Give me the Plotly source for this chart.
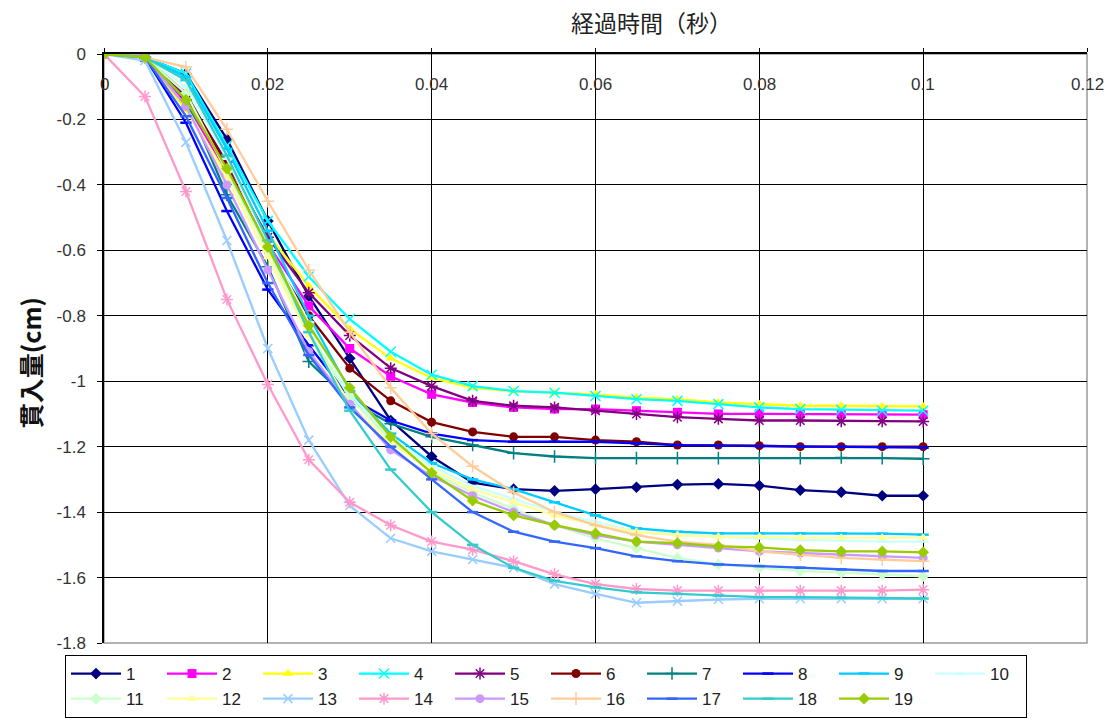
import plotly.graph_objects as go

# elapsed time (s)
t = [0, 0.005, 0.01, 0.015, 0.02, 0.025, 0.03, 0.035, 0.04, 0.045, 0.05,
     0.055, 0.06, 0.065, 0.07, 0.075, 0.08, 0.085, 0.09, 0.095, 0.1]

s1 = [0, -0.01, -0.06, -0.26, -0.51, -0.74, -0.93, -1.12, -1.23, -1.31, -1.33,
      -1.335, -1.33, -1.324, -1.316, -1.314, -1.319, -1.333, -1.339, -1.35, -1.35]
s2 = [0, -0.01, -0.15, -0.36, -0.58, -0.77, -0.90, -0.985, -1.04, -1.065, -1.08,
      -1.085, -1.085, -1.09, -1.095, -1.10, -1.10, -1.10, -1.10, -1.10, -1.102]
s3 = [0, -0.01, -0.17, -0.37, -0.55, -0.71, -0.84, -0.93, -0.99, -1.02, -1.03,
      -1.035, -1.04, -1.05, -1.055, -1.065, -1.07, -1.075, -1.075, -1.077, -1.077]
s4 = [0, -0.01, -0.06, -0.28, -0.51, -0.68, -0.81, -0.91, -0.98, -1.015, -1.03,
      -1.035, -1.045, -1.055, -1.06, -1.07, -1.08, -1.085, -1.087, -1.09, -1.09]
s5 = [0, -0.01, -0.13, -0.33, -0.56, -0.73, -0.86, -0.96, -1.015, -1.06, -1.075,
      -1.08, -1.09, -1.10, -1.11, -1.115, -1.12, -1.12, -1.122, -1.122, -1.123]
s6 = [0, -0.01, -0.12, -0.34, -0.60, -0.80, -0.96, -1.06, -1.125, -1.155, -1.17,
      -1.17, -1.18, -1.185, -1.195, -1.195, -1.197, -1.2, -1.2, -1.2, -1.2]
s7 = [0, -0.01, -0.14, -0.43, -0.65, -0.94, -1.06, -1.13, -1.17, -1.195, -1.22,
      -1.23, -1.235, -1.235, -1.235, -1.235, -1.235, -1.235, -1.233, -1.235, -1.237]
s8 = [0, -0.01, -0.21, -0.48, -0.72, -0.89, -1.05, -1.12, -1.16, -1.18, -1.185,
      -1.185, -1.185, -1.19, -1.195, -1.197, -1.198, -1.2, -1.2, -1.202, -1.203]
s9 = [0, -0.01, -0.07, -0.29, -0.54, -0.80, -1.03, -1.16, -1.25, -1.30, -1.33,
      -1.37, -1.41, -1.45, -1.46, -1.465, -1.465, -1.465, -1.465, -1.466, -1.469]
s10 = [0, -0.01, -0.10, -0.32, -0.58, -0.82, -1.04, -1.17, -1.26, -1.32, -1.36,
       -1.40, -1.43, -1.46, -1.47, -1.475, -1.48, -1.485, -1.487, -1.49, -1.49]
s11 = [0, -0.01, -0.12, -0.36, -0.60, -0.85, -1.05, -1.18, -1.28, -1.34, -1.39,
       -1.44, -1.48, -1.51, -1.54, -1.56, -1.57, -1.58, -1.585, -1.59, -1.596]
s12 = [0, -0.01, -0.16, -0.38, -0.62, -0.86, -1.07, -1.19, -1.27, -1.33, -1.37,
       -1.41, -1.44, -1.46, -1.47, -1.475, -1.475, -1.478, -1.478, -1.478, -1.478]
s13 = [0, -0.02, -0.27, -0.57, -0.90, -1.18, -1.38, -1.48, -1.52, -1.545, -1.57,
       -1.62, -1.65, -1.677, -1.672, -1.667, -1.665, -1.665, -1.665, -1.665, -1.665]
s14 = [0, -0.13, -0.42, -0.75, -1.01, -1.24, -1.37, -1.44, -1.49, -1.515, -1.55,
       -1.59, -1.62, -1.635, -1.64, -1.64, -1.64, -1.64, -1.64, -1.64, -1.637]
s15 = [0, -0.01, -0.16, -0.40, -0.66, -0.91, -1.07, -1.21, -1.29, -1.35, -1.40,
       -1.44, -1.47, -1.49, -1.50, -1.51, -1.52, -1.525, -1.53, -1.535, -1.54]
s16 = [0, -0.01, -0.04, -0.23, -0.45, -0.66, -0.85, -1.02, -1.16, -1.26, -1.34,
       -1.40, -1.44, -1.47, -1.49, -1.50, -1.52, -1.53, -1.54, -1.545, -1.55]
s17 = [0, -0.01, -0.19, -0.44, -0.70, -0.92, -1.08, -1.20, -1.30, -1.40, -1.46,
       -1.49, -1.51, -1.535, -1.55, -1.56, -1.565, -1.57, -1.575, -1.58, -1.58]
s18 = [0, -0.01, -0.08, -0.31, -0.57, -0.85, -1.09, -1.27, -1.40, -1.50, -1.57,
       -1.61, -1.63, -1.645, -1.65, -1.655, -1.66, -1.66, -1.662, -1.663, -1.664]
s19 = [0, -0.01, -0.14, -0.35, -0.59, -0.83, -1.02, -1.17, -1.28, -1.365, -1.41,
       -1.44, -1.465, -1.49, -1.495, -1.505, -1.508, -1.516, -1.52, -1.52, -1.523]

names = [str(i) for i in range(1, 20)]
series = [s1, s2, s3, s4, s5, s6, s7, s8, s9, s10,
          s11, s12, s13, s14, s15, s16, s17, s18, s19]

colors = ["#000080", "#FF00FF", "#FFFF00", "#00FFFF", "#800080", "#800000",
          "#008080", "#0000FF", "#00CCFF", "#CCFFFF", "#CCFFCC", "#FFFF99",
          "#99CCFF", "#FF99CC", "#CC99FF", "#FFCC99", "#3366FF", "#33CCCC",
          "#99CC00"]
symbols = ["diamond", "square", "triangle-up", "x-thin-open", "asterisk-open",
           "circle", "cross-thin-open", "line-ew-open", "line-ew-open",
           "line-ew-open", "diamond", "triangle-up", "x-thin-open",
           "asterisk-open", "circle", "cross-thin-open", "line-ew-open",
           "line-ew-open", "diamond"]
sizes = [9, 9, 9, 10, 10, 9, 9, 8, 8, 8, 9, 9, 9, 10, 9, 9, 8, 8, 9]

ytickvals = [0, -0.2, -0.4, -0.6, -0.8, -1, -1.2, -1.4, -1.6, -1.8]
yticktext = ["0", "-0.2", "-0.4", "-0.6", "-0.8", "-1", "-1.2", "-1.4", "-1.6", "-1.8"]
xtickvals = [0, 0.02, 0.04, 0.06, 0.08, 0.1, 0.12]
xticktext = ["0", "0.02", "0.04", "0.06", "0.08", "0.1", "0.12"]

FONT = "Liberation Sans, Arial, sans-serif"
JFONT = "Noto Sans CJK JP, sans-serif"

fig = go.Figure()
for name, ys, c, sym, sz in zip(names, series, colors, symbols, sizes):
    open_sym = sym.endswith("open")
    fig.add_trace(go.Scatter(
        x=t, y=ys, name=name, mode="lines+markers",
        line=dict(color=c, width=2.3),
        marker=dict(symbol=sym, size=sz, color=c,
                    line=dict(color=c, width=(2.5 if sym.startswith("line") else 1.5) if open_sym else 0)),
    ))

annotations = [
    dict(text="経過時間（秒）", xref="paper", yref="paper", x=0.557, y=1.0,
         yshift=32, showarrow=False, xanchor="center", yanchor="middle",
         font=dict(family=JFONT, size=23, color="#222222")),
    dict(text="<b>貫入量(cm)</b>", xref="paper", yref="paper", x=0, xshift=-74,
         y=0.475, textangle=-90, showarrow=False, xanchor="center", yanchor="middle",
         font=dict(family=JFONT, size=25, color="#111111")),
]
for v, s in zip(xtickvals, xticktext):
    annotations.append(dict(text=s, x=v, y=0, xref="x", yref="y", yshift=-30,
                            showarrow=False, xanchor="center", yanchor="middle",
                            font=dict(family=FONT, size=17, color="#333333")))

fig.update_layout(
    width=1112, height=720,
    margin=dict(l=104, r=25, t=54, b=77, autoexpand=False),
    paper_bgcolor="white", plot_bgcolor="white",
    font=dict(family=FONT, size=16, color="#222222"),
    showlegend=True,
    legend=dict(
        orientation="h", xref="container", yref="container",
        x=65 / 1112, xanchor="left", y=2 / 720, yanchor="bottom",
        entrywidth=31, entrywidthmode="pixels", itemwidth=50,
        bordercolor="#000000", borderwidth=1, bgcolor="white",
        font=dict(family=FONT, size=17, color="#222222"),
        traceorder="normal",
    ),
    xaxis=dict(
        range=[0, 0.12], side="top", tickvals=xtickvals, showticklabels=False,
        ticks="outside", ticklen=4, tickcolor="black", automargin=False,
        showline=True, linecolor="black", linewidth=1.5,
        showgrid=True, gridcolor="black", gridwidth=1, zeroline=False,
    ),
    yaxis=dict(
        range=[-1.8, 0], tickvals=ytickvals, ticktext=yticktext,
        ticks="outside", ticklen=5, tickcolor="black", ticklabelstandoff=8,
        automargin=False,
        showline=True, linecolor="black", linewidth=1.5,
        showgrid=True, gridcolor="black", gridwidth=1, zeroline=False,
        tickfont=dict(family=FONT, size=17, color="#333333"),
    ),
    shapes=[dict(type="rect", xref="paper", yref="paper", x0=0, y0=0, x1=1, y1=1,
                 line=dict(color="#9a9a9a", width=1.5), layer="below")],
    annotations=annotations,
)

fig.write_html("out.html")
